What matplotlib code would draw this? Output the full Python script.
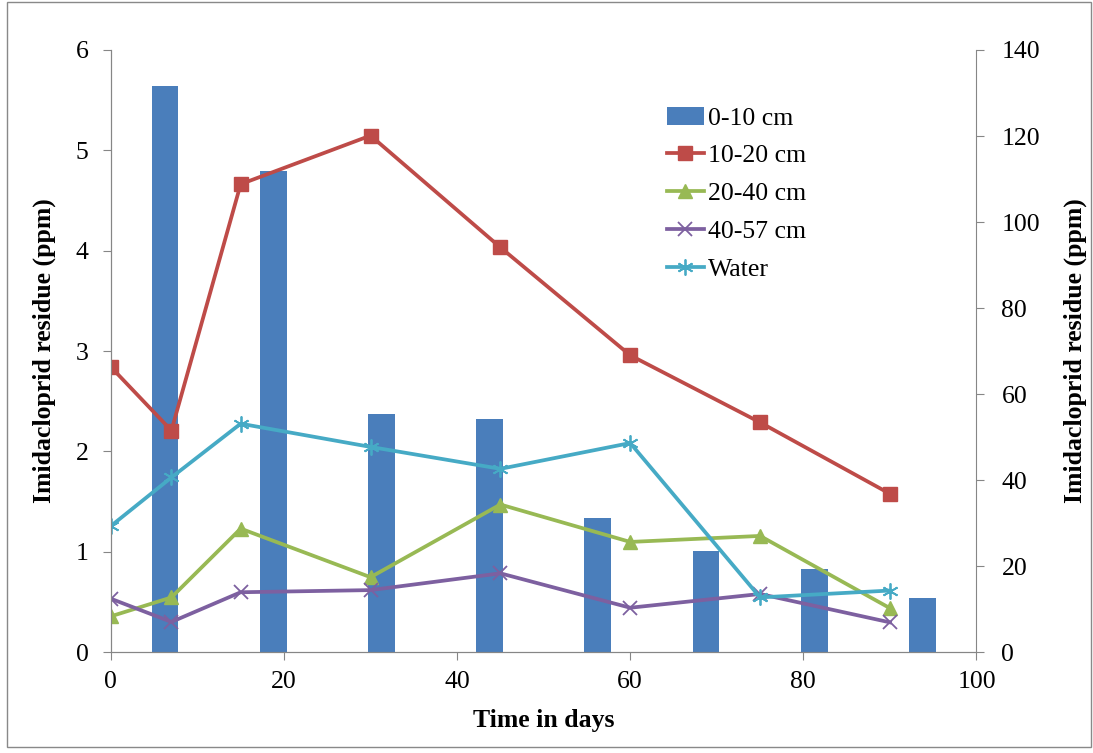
import numpy as np
import matplotlib.pyplot as plt
from matplotlib.patches import Rectangle

plt.rcParams['font.family'] = ['Liberation Serif', 'DejaVu Serif']

# data
days = [0, 7, 15, 30, 45, 60, 75, 90]
bar_pos = [6.25, 18.75, 31.25, 43.75, 56.25, 68.75, 81.25, 93.75]
soil_0_10 = [5.64, 4.79, 2.37, 2.32, 1.34, 1.01, 0.83, 0.54]
soil_10_20 = [66.3, 51.5, 108.8, 120.1, 94.1, 69.0, 53.4, 36.8]
soil_20_40 = [8.3, 12.7, 28.7, 17.4, 34.3, 25.6, 27.0, 10.2]
soil_40_57 = [12.4, 7.0, 13.9, 14.4, 18.3, 10.3, 13.5, 6.9]
water = [29.3, 40.6, 53.1, 47.7, 42.6, 48.6, 12.7, 14.3]

grey = '#868686'
fs = 18.5

fig = plt.figure(figsize=(10.93, 7.53), dpi=100)
ax = fig.add_axes([0.1014, 0.1341, 0.792, 0.7995])
ax2 = ax.twinx()

ax.bar(bar_pos, soil_0_10, width=3.1, color='#4A7EBB', label='0-10 cm', zorder=2)

lw = 2.7
l1, = ax2.plot(days, soil_10_20, color='#BE4B48', marker='s', ms=9.5, lw=lw, label='10-20 cm')
l2, = ax2.plot(days, soil_20_40, color='#98B954', marker='^', ms=10.5, lw=lw, label='20-40 cm')
l3, = ax2.plot(days, soil_40_57, color='#7D60A0', marker='x', ms=9.5, mew=1.3, lw=lw, label='40-57 cm')
l4, = ax2.plot(days, water, color='#46AAC5', marker=(6, 2, 0), ms=11.5, mew=1.3, lw=lw, label='Water')

ax.set_xlim(0, 100)
ax.set_ylim(0, 6)
ax2.set_ylim(0, 140)
ax.set_xticks(np.arange(0, 101, 20))
ax.set_yticks(np.arange(0, 7, 1))
ax2.set_yticks(np.arange(0, 141, 20))

for a in (ax, ax2):
    for s in a.spines.values():
        s.set_color(grey)
    a.spines['top'].set_visible(False)
    a.tick_params(colors=grey, labelcolor='black', labelsize=fs, length=6, direction='out')
ax.spines['right'].set_visible(False)
ax.tick_params(axis='x', pad=8)
ax.tick_params(axis='y', pad=10)
ax2.tick_params(axis='y', pad=12)

ax.set_xlabel('Time in days', fontsize=fs, fontweight='bold', labelpad=11)
ax.set_ylabel('Imidacloprid residue (ppm)', fontsize=fs, fontweight='bold', labelpad=14)
ax2.set_ylabel('Imidacloprid residue (ppm)', fontsize=fs, fontweight='bold', labelpad=17)

bars = ax.containers[0]
ax2.legend([bars, l1, l2, l3, l4], ['0-10 cm', '10-20 cm', '20-40 cm', '40-57 cm', 'Water'],
           loc='upper left', bbox_to_anchor=(0.642, 0.906), frameon=False, fontsize=fs,
           handlelength=1.45, handletextpad=0.15, labelspacing=0.58, borderaxespad=0,
           borderpad=0)

fig.patches.append(Rectangle((7, 6), 1084, 745, transform=None, fill=False,
                             edgecolor='#898989', lw=1))

fig.savefig('out.png', dpi=100)
